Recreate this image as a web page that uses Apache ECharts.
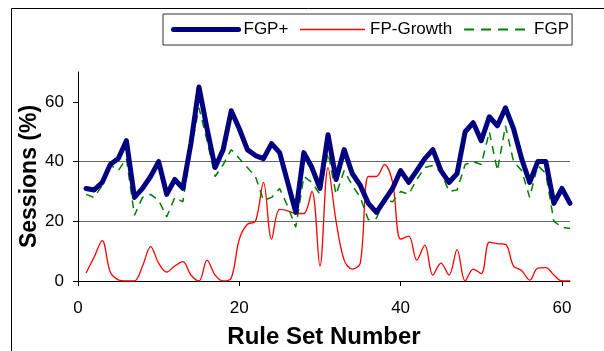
<!DOCTYPE html>
<html><head><meta charset="utf-8">
<script src="https://cdn.jsdelivr.net/npm/echarts@6/dist/echarts.min.js"></script>
<style>html,body{margin:0;padding:0;background:#fff}#c{width:604px;height:351px}</style>
</head><body><div id="c"></div>
<script>
var ruleSets = [1,2,3,4,5,6,7,8,9,10,11,12,13,14,15,16,17,18,19,20,21,22,23,24,25,26,27,28,29,30,31,32,33,34,35,36,37,38,39,40,41,42,43,44,45,46,47,48,49,50,51,52,53,54,55,56,57,58,59,60,61];
var fgpPlus = [31,30.5,33,39,41,47,28,31,35,40,29,34,31,46,65,51,38,44,57,51,44,42,41,46,43,33,23,43,38,31,49,34,44,36,32,26,23,27,31,37,33,37,41,44,37,33,36,50,53,47,55,52,58,51,41,33,40,40,26,31,26];
var fpGrowth = [2.7,8,13.5,3,0.4,0,0,5,11.5,6,3,5,6.5,2,0,7,2,0,1,14,19,20,33,14,24,23.5,22.6,22.6,30,5,38,20,7,4,6,35,35,39,33,14,15,7,12,2,6,2,10.5,0,4,2.5,13,12.5,12.3,5,3.5,0.3,4.3,4.5,2,0,0];
var fgp = [29,28,32,39,37,41,22,28,29,27,21.5,28,26.5,44,58,47,35,39,44,41,38,35,27,28,31,25,18,35,33,29,43,29,37,32,28,20.5,21,27.5,26.5,30,29,34,38,38.7,36.5,30,30.5,39,40,39,50,37,52,40,37,28,38.7,36,20,18,17.6];
var xTicks = [0,20,40,60];
var yTicks = [0,20,40,60];

function pairs(v){ return ruleSets.map(function(x,i){ return [x, v[i]]; }); }

var chart = echarts.init(document.getElementById('c'), null, {renderer:'canvas'});
var font = '"Liberation Sans", Arial, sans-serif';
chart.setOption({
  animation:false,
  backgroundColor:'#fff',
  graphic:[{type:'rect', shape:{x:11.5,y:8.5,width:700,height:500}, style:{fill:null, stroke:'#000', lineWidth:1}, silent:true, z:-10}],
  grid:{left:78, right:34, top:72, bottom:70, containLabel:false, outerBoundsMode:'none'},
  legend:{
    left:163, top:14, orient:'horizontal',
    padding:[7,3,7,8], itemGap:11, itemWidth:65, itemHeight:18,
    borderColor:'#333', borderWidth:1, backgroundColor:'#fff',
    itemStyle:{opacity:0},
    textStyle:{fontFamily:font, fontSize:17, color:'#000'},
    data:[
      {name:'FGP+', lineStyle:{width:5, color:'#000080'}},
      {name:'FP-Growth', lineStyle:{width:1.3, color:'#ff0000'}},
      {name:'FGP', lineStyle:{width:1.8, color:'#008000', type:[10,7]}}
    ]
  },
  xAxis:{
    type:'value', min:0, max:61, interval:20,
    name:'Rule Set Number', nameLocation:'middle', nameGap:44, nameMoveOverlap:false,
    nameTextStyle:{fontFamily:font, fontSize:24, fontWeight:'bold', color:'#000'},
    axisLine:{show:true, onZero:false, lineStyle:{color:'#000', width:1}},
    axisTick:{show:true, length:5, customValues:xTicks, lineStyle:{color:'#000'}},
    axisLabel:{customValues:xTicks, fontFamily:font, fontSize:17, color:'#000', margin:19},
    splitLine:{show:false}
  },
  yAxis:{
    type:'value', min:0, max:70, interval:20,
    name:'Sessions (%)', nameLocation:'middle', nameGap:37, nameMoveOverlap:false,
    nameTextStyle:{fontFamily:font, fontSize:23, fontWeight:'bold', color:'#000'},
    axisLine:{show:true, lineStyle:{color:'#000', width:1}},
    axisTick:{show:true, length:5, customValues:yTicks, lineStyle:{color:'#000'}},
    axisLabel:{customValues:yTicks, fontFamily:font, fontSize:17, color:'#000', margin:14},
    splitLine:{show:true, showMinLine:false, showMaxLine:false, lineStyle:{color:'#666', width:1}}
  },
  series:[
    {name:'FGP+', type:'line', data:pairs(fgpPlus), symbol:'none', z:5,
     lineStyle:{color:'#000080', width:5, join:'round', cap:'round'}, itemStyle:{color:'#000080'}},
    {name:'FP-Growth', type:'line', data:pairs(fpGrowth), symbol:'none', smooth:0.35, z:3,
     lineStyle:{color:'#ff0000', width:1.3}, itemStyle:{color:'#ff0000'}},
    {name:'FGP', type:'line', data:pairs(fgp), symbol:'none', z:4,
     lineStyle:{color:'#008000', width:1.5, type:[8,6]}, itemStyle:{color:'#008000'}}
  ]
});
</script>
</body></html>
